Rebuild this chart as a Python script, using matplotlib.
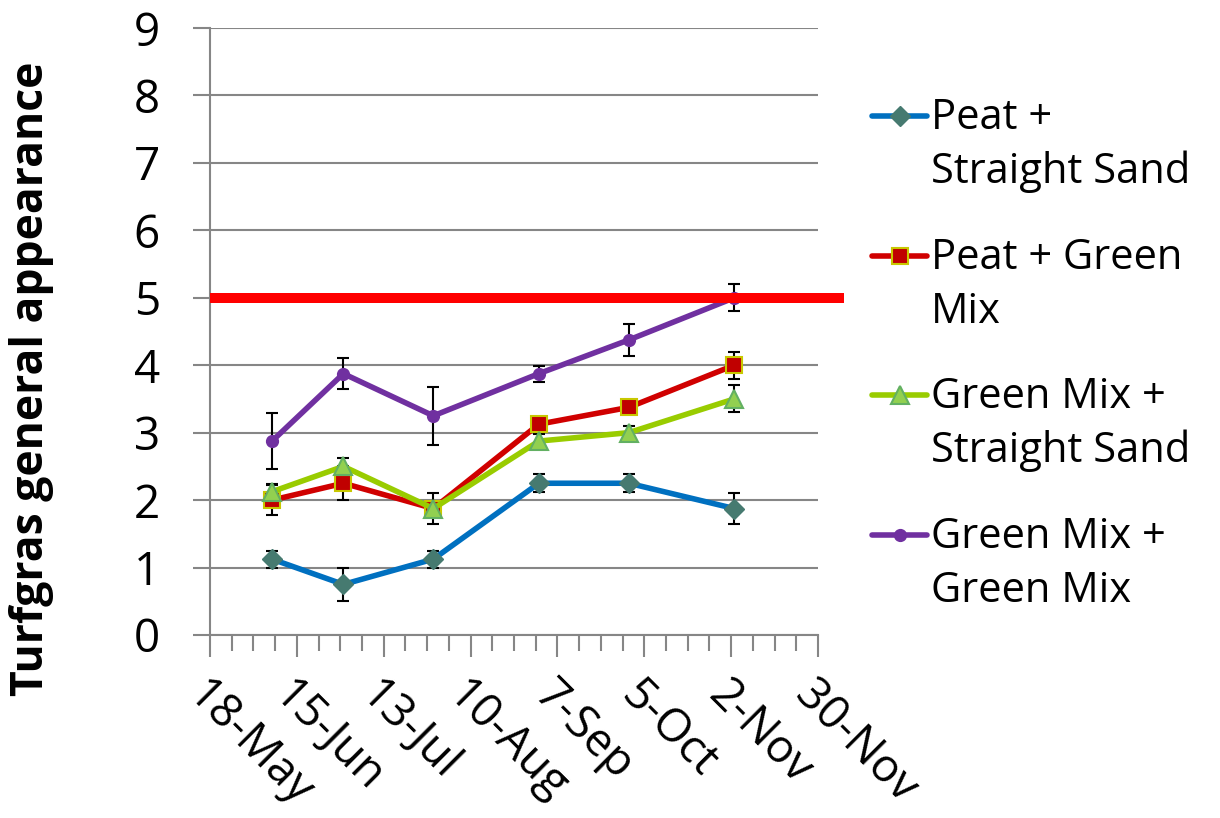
import datetime
import numpy as np
import matplotlib
matplotlib.use('Agg')
import matplotlib.pyplot as plt
import matplotlib.dates as mdates
from matplotlib.lines import Line2D

plt.rcParams['font.family'] = ['Open Sans', 'DejaVu Sans']

# sampling dates
dates = [datetime.date(2011, 6, 7), datetime.date(2011, 6, 30), datetime.date(2011, 7, 29),
         datetime.date(2011, 9, 1), datetime.date(2011, 9, 30), datetime.date(2011, 11, 3)]
x_start = datetime.date(2011, 5, 18)
x_end = datetime.date(2011, 11, 30)

labels = ['Peat +\nStraight Sand', 'Peat + Green\nMix', 'Green Mix +\nStraight Sand', 'Green Mix +\nGreen Mix']
peat_sand = [1.125, 0.75, 1.125, 2.25, 2.25, 1.875]
peat_green = [2.0, 2.25, 1.875, 3.125, 3.375, 4.0]
green_sand = [2.125, 2.5, 1.875, 2.875, 3.0, 3.5]
green_green = [2.875, 3.875, 3.25, 3.875, 4.375, 5.0]
err_peat_sand = [0.125, 0.25, 0.125, 0.13, 0.13, 0.23]
err_peat_green = [0.22, 0.25, 0.23, 0.1, 0.1, 0.2]
err_green_sand = [0.12, 0.12, 0.1, 0.1, 0.1, 0.2]
err_green_green = [0.42, 0.23, 0.43, 0.12, 0.24, 0.2]
threshold = 5

series = [peat_sand, peat_green, green_sand, green_green]
errors = [err_peat_sand, err_peat_green, err_green_sand, err_green_green]
styles = [
    dict(color='#0070C0', marker='D', ms=10, mfc='#467A70', mec='#467A70', mew=1),
    dict(color='#D00000', marker='s', ms=12, mfc='#C00000', mec='#C8C800', mew=1.5),
    dict(color='#99CC00', marker='^', ms=12.5, mfc='#92D050', mec='#62B062', mew=1.5),
    dict(color='#7030A0', marker='o', ms=8.5, mfc='#7030A0', mec='#7030A0', mew=1),
]

fig = plt.figure(figsize=(12.2, 8.18), dpi=100)
ax = fig.add_axes([210 / 1220, 1 - 635 / 818, 608 / 1220, 607 / 818])

xd = mdates.date2num(dates)
for vals, err, st in zip(series, errors, styles):
    ax.errorbar(xd, vals, yerr=err, fmt='none', ecolor='black', elinewidth=1.5,
                capsize=4.3, capthick=1.5, zorder=3)
for vals, st in zip(series, styles):
    ax.plot(xd, vals, lw=4, zorder=4, **st)

ax.plot([0, 1.043], [threshold, threshold], color='#FF0000', lw=7.2,
        transform=ax.get_yaxis_transform(), clip_on=False, zorder=5, solid_capstyle='butt')

x0 = mdates.date2num(x_start)
x1 = mdates.date2num(x_end)
ax.set_xlim(x0, x1)
ax.set_ylim(0, 9)
ax.xaxis.set_major_locator(plt.FixedLocator(np.arange(x0, x1 + 1, 28)))
ax.xaxis.set_minor_locator(plt.FixedLocator(np.arange(x0, x1 + 1, 7)))
ax.xaxis.set_major_formatter(mdates.DateFormatter('%-d-%b'))
ax.set_yticks(range(10))

gray = '#868686'
ax.grid(axis='y', color=gray, lw=1.5)
ax.set_axisbelow(True)
for s in ['top', 'right']:
    ax.spines[s].set_visible(False)
for s in ['left', 'bottom']:
    ax.spines[s].set_color(gray)
    ax.spines[s].set_linewidth(1.5)

ax.tick_params(axis='y', which='major', length=12, width=1.5, color=gray, labelsize=33, pad=24)
ax.tick_params(axis='x', which='major', length=16, width=1.5, color=gray, labelsize=33, pad=11)
ax.tick_params(axis='x', which='minor', length=11.5, width=1.5, color=gray)
for lab in ax.get_xticklabels():
    lab.set_rotation(-45)
    lab.set_ha('left')
    lab.set_va('top')
    lab.set_rotation_mode('anchor')

fig.text(32 / 1220, 1 - 379 / 818, 'Turfgras general appearance', rotation=90,
         ha='center', va='center', fontsize=32, fontweight='bold')

# legend drawn by hand so the key sits on the first text line
key_y = [116, 256, 395, 535]
for lab, st, ky in zip(labels, styles, key_y):
    fy = 1 - ky / 818
    fig.add_artist(Line2D([872 / 1220, 927 / 1220], [fy, fy], transform=fig.transFigure,
                          color=st['color'], lw=4, solid_capstyle='round'))
    fig.add_artist(Line2D([899.5 / 1220], [fy], transform=fig.transFigure, ls='none',
                          marker=st['marker'], ms=st['ms'], mfc=st['mfc'], mec=st['mec'], mew=st['mew']))
    for k, line in enumerate(lab.split('\n')):
        base = ky + 13 + 54 * k
        fig.text(931 / 1220, 1 - base / 818, line, ha='left', va='baseline', fontsize=30)

fig.savefig('out.png', dpi=100)
